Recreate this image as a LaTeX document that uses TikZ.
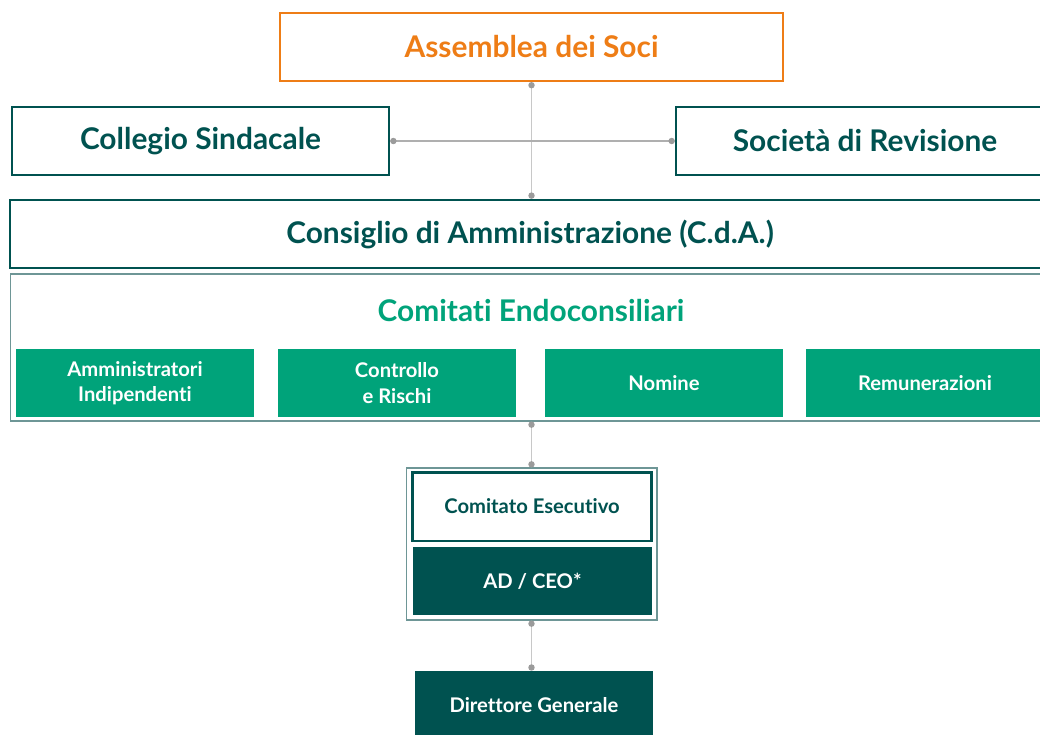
\documentclass[tikz,border=0pt]{standalone}
\usepackage{fontspec}
\setmainfont{Lato}[Ligatures=NoCommon]
\usetikzlibrary{arrows.meta}

\definecolor{orgorange}{RGB}{238,125,22}
\definecolor{orgdark}{RGB}{0,82,80}
\definecolor{orggreen}{RGB}{0,163,122}
\definecolor{framegray}{RGB}{110,150,150}
\definecolor{linegray}{RGB}{200,200,200}
\definecolor{dotgray}{RGB}{155,155,155}

\tikzset{
  bigbox/.style={draw=orgdark, line width=1.4pt, text=orgdark, inner sep=0pt,
    font=\bfseries\fontsize{17}{20}\selectfont, minimum height=1.36cm},
  greenbox/.style={fill=orggreen, text=white, inner sep=0pt, align=center,
    font=\bfseries\fontsize{11.5}{14.5}\selectfont, minimum width=4.76cm, minimum height=1.36cm},
  darkbox/.style={fill=orgdark, text=white, inner sep=0pt,
    font=\bfseries\fontsize{11.5}{14.5}\selectfont, minimum width=4.76cm, minimum height=1.36cm},
  framebox/.style={draw=framegray, line width=0.6pt, inner sep=0pt},
  link/.style={draw=linegray, line width=0.8pt, {Circle[length=3.6pt,fill=dotgray,color=dotgray]}-{Circle[length=3.6pt,fill=dotgray,color=dotgray]}}
}

\begin{document}
\begin{tikzpicture}[x=0.02cm,y=-0.02cm]
    \useasboundingbox (0,0) rectangle (1040,734);

    % top level
    \node[bigbox, draw=orgorange, line width=1.2pt, text=orgorange, minimum width=10.06cm] (assem) at (531.5,47) {Assemblea dei Soci};
    \node[bigbox, minimum width=7.54cm] (collegio) at (200.5,141) {Collegio Sindacale};
    \node[bigbox, minimum width=7.56cm] (societa) at (865,141) {Società di Revisione};
    \node[bigbox, minimum width=20.8cm] (cda) at (530,234) {Consiglio di Amministrazione (C.d.A.)};

    % committees
    \node[framebox, minimum width=20.8cm, minimum height=2.94cm] (comitati) at (530,347.5) {};
    \node[text=orggreen, font=\bfseries\fontsize{17}{20}\selectfont] (comtitle) at (531,311) {Comitati Endoconsiliari};
    \node[greenbox] (indip) at (135,383) {Amministratori\\Indipendenti};
    \node[greenbox] (rischi) at (397,383) {Controllo\\e Rischi};
    \node[greenbox] (nomine) at (664,383) {Nomine};
    \node[greenbox] (remun) at (925,383) {Remunerazioni};

    % executive
    \node[framebox, minimum width=5.02cm, minimum height=3.04cm] (ceframe) at (531.5,544) {};
    \node[bigbox, line width=1.7pt, font=\bfseries\fontsize{11.5}{14.5}\selectfont, minimum width=4.8cm, minimum height=1.38cm] (esec) at (532,506.5) {Comitato Esecutivo};
    \node[darkbox, minimum width=4.78cm] (adceo) at (532.5,581) {AD / CEO*};
    \node[darkbox] (dg) at (534,705) {Direttore Generale};

    % links
    \draw[link] (assem.south) -- (assem.south |- cda.north);
    \draw[link, draw=dotgray!80] (collegio.east) -- (societa.west);
    \draw[link] (comitati.south -| ceframe.north) -- (ceframe.north);
    \draw[link] (ceframe.south) -- (ceframe.south |- dg.north);
\end{tikzpicture}
\end{document}
